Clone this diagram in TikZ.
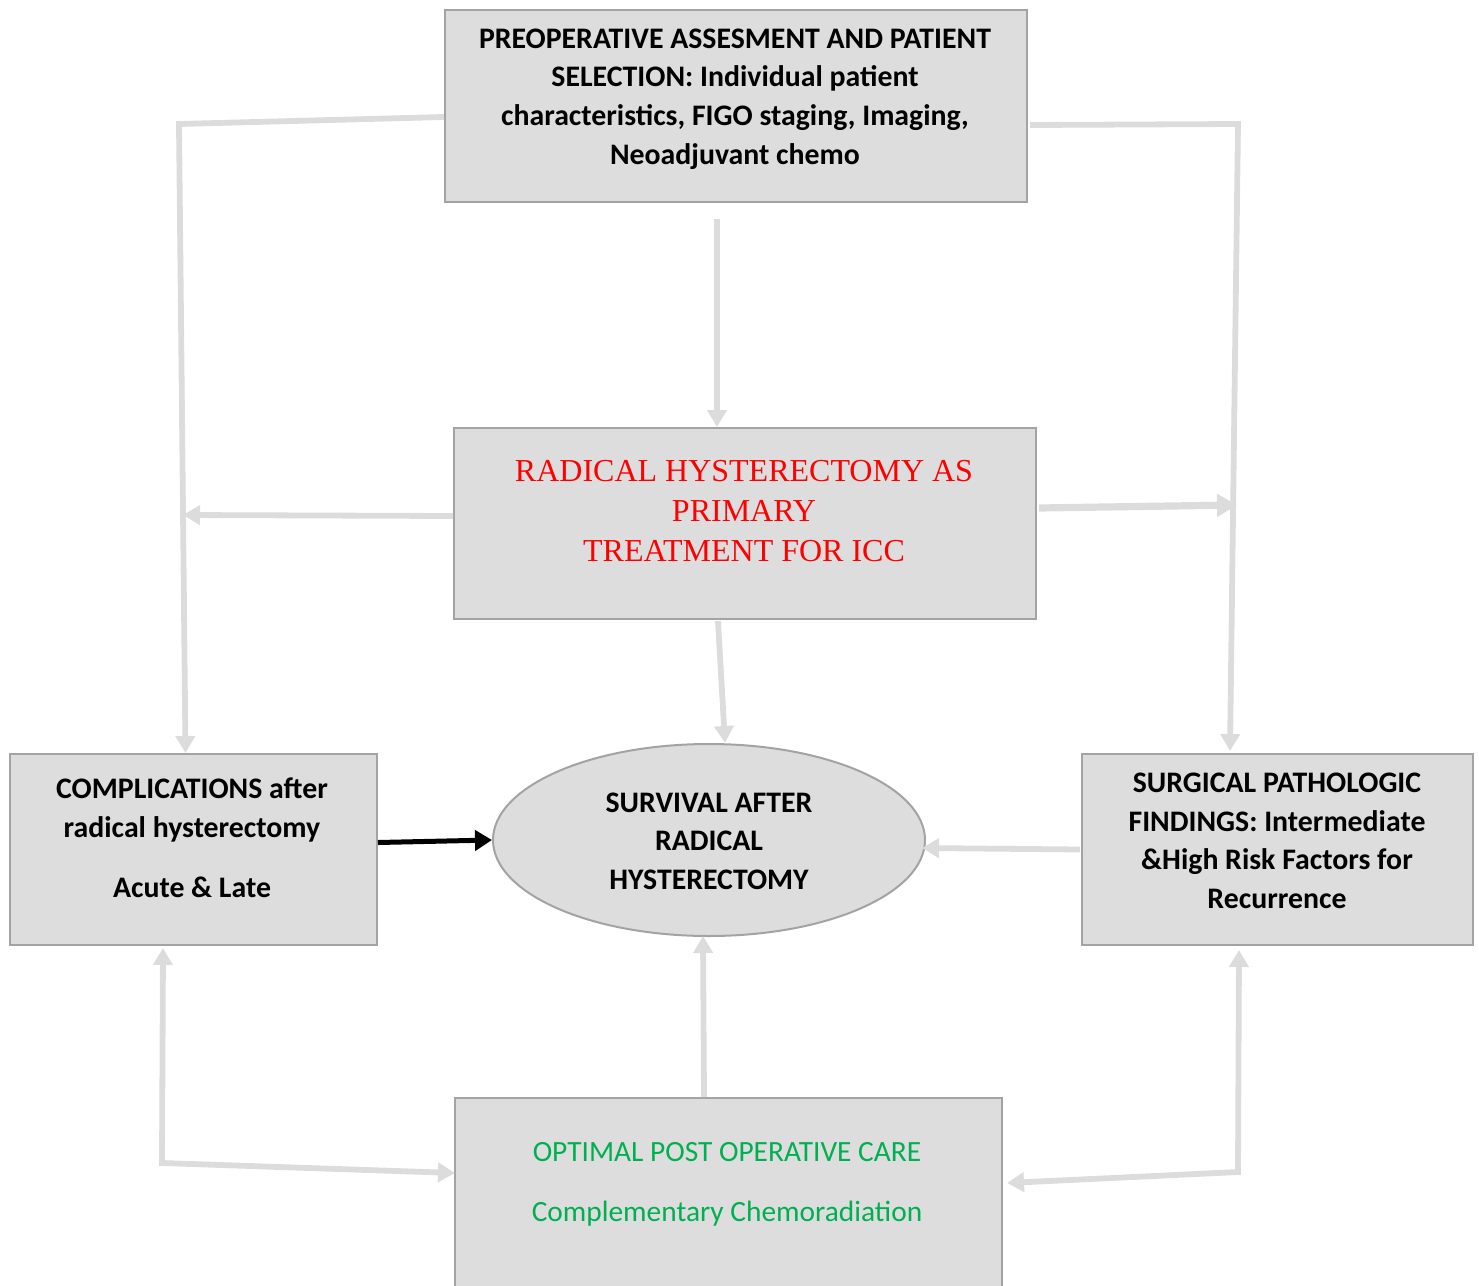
\documentclass[tikz,border=0pt]{standalone}
\usepackage{fontspec}
\setmainfont{Carlito}
\newfontfamily\redserif{Liberation Serif}
\usetikzlibrary{arrows.meta,calc,shapes.geometric}
\definecolor{boxfill}{HTML}{DDDDDD}
\definecolor{boxline}{HTML}{A3A3A3}
\definecolor{connc}{HTML}{DCDCDC}
\definecolor{grn}{HTML}{00B050}
\begin{document}
\begin{tikzpicture}[x=0.5pt,y=-0.5pt,
  box/.style={draw=boxline, fill=boxfill, line width=1pt, inner sep=0pt, anchor=north west},
  oval/.style={ellipse, draw=boxline, fill=boxfill, line width=1pt, inner sep=0pt},
  txt/.style={align=center, inner sep=0pt, font=\bfseries\fontsize{14.9}{19.3}\selectfont},
  redtxt/.style={align=center, inner sep=0pt, text=red, font=\redserif\fontsize{16}{20}\selectfont},
  grntxt/.style={align=center, inner sep=0pt, text=grn, font=\fontsize{14.7}{19.3}\selectfont},
  conn/.style={draw=connc, line width=2.9pt, -{Triangle[length=8.5pt,width=9.5pt]}},
  thickconn/.style={draw=connc, line width=3.6pt, -{Triangle[length=10pt,width=11pt]}},
  connboth/.style={draw=connc, line width=2.9pt, {Triangle[length=8.5pt,width=9.5pt]}-{Triangle[length=8.5pt,width=9.5pt]}},
  blackconn/.style={draw=black, line width=2.5pt, -{Triangle[length=8.5pt,width=10pt]}}]
\useasboundingbox (0,0) rectangle (1479,1286);
% boxes
\node[box, minimum width=291pt, minimum height=96pt] (top) at (444,9) {};
\node[box, minimum width=291pt, minimum height=95.5pt] (mid) at (453,427) {};
\node[box, minimum width=183.5pt, minimum height=95.5pt] (lbox) at (9,753) {};
\node[box, minimum width=195.5pt, minimum height=95.5pt] (rbox) at (1081,753) {};
\node[box, minimum width=273.5pt, minimum height=110pt] (bot) at (454,1097) {};
\node[oval, minimum width=216pt, minimum height=96pt] (surv) at (709,840) {};
% texts
\node[txt] (toptxt) at (735,99) {PREOPERATIVE ASSESMENT AND PATIENT\\SELECTION: Individual patient\\characteristics, FIGO staging, Imaging,\\Neoadjuvant chemo};
\node[redtxt] (midtxt) at (744,511) {RADICAL HYSTERECTOMY AS\\PRIMARY\\TREATMENT FOR ICC};
\node[txt] (ltxt) at (192,838) {COMPLICATIONS after\\radical hysterectomy\\[11pt]Acute \& Late};
\node[txt] (stxt) at (709,841) {SURVIVAL AFTER\\RADICAL\\HYSTERECTOMY};
\node[txt] (rtxt) at (1277,841) {SURGICAL PATHOLOGIC\\FINDINGS: Intermediate\\\&High Risk Factors for\\Recurrence};
\node[grntxt] (btxt) at (727,1184) {OPTIMAL POST OPERATIVE CARE\\[10.7pt]Complementary Chemoradiation};
% bend coordinates
\coordinate (tl) at (179,124);
\coordinate (tr) at (1238,124);
\coordinate (tstart) at (717,219);
\coordinate (bl) at (162,1163);
\coordinate (br) at (1238,1172);
% connectors
\draw[conn] ($(top.west)+(0,11)$) -- (tl) -- ($(lbox.north)+(-8,0)$);
\draw[conn] ($(top.east)+(2,19)$) -- (tr) -- ($(rbox.north)+(-47.5,-2)$);
\draw[conn] (tstart) -- (tstart |- mid.north);
\draw[conn] ($(mid.west)+(0,-7.5)$) -- (183,515);
\draw[thickconn] ($(mid.east)+(2,-15.5)$) -- (1237,505);
\draw[conn] ($(mid.south)+(-27,1)$) -- ($(surv.north)+(16,0)$);
\draw[blackconn] ($(lbox.east)+(0,-7)$) -- (surv.west);
\draw[conn] ($(rbox.west)+(-1,0)$) -- ($(surv.east)+(-4,8)$);
\draw[conn] ($(bot.north)+(-24.5,0)$) -- ($(surv.south)+(-6,-1)$);
\draw[connboth] ($(lbox.south)+(-30.5,2)$) -- (bl) -- ($(bot.west)+(1,-35)$);
\draw[connboth] ($(rbox.south)+(-38.5,4)$) -- (br) -- ($(bot.east)+(4,-25)$);
\end{tikzpicture}
\end{document}
